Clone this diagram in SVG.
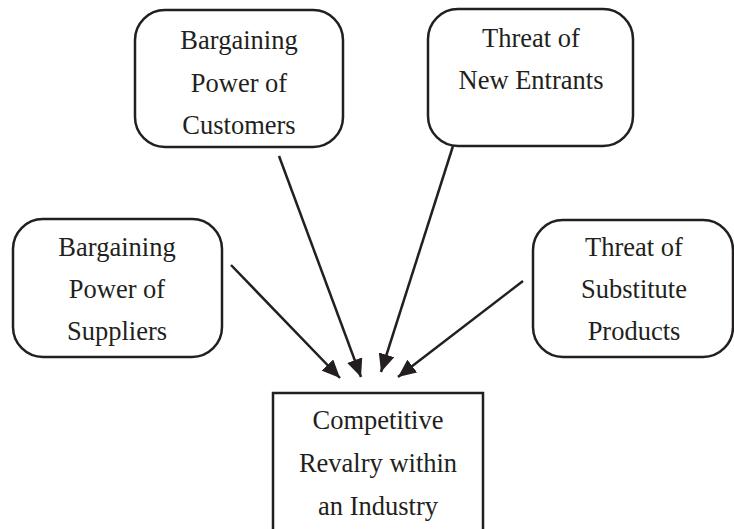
<svg xmlns="http://www.w3.org/2000/svg" width="734" height="529" viewBox="0 0 734 529">
<style>
.box{fill:#fff;stroke:#231f20;stroke-width:2.5}
.t{font-family:"Liberation Serif","Times New Roman",serif;font-size:26.5px;fill:#231f20;text-anchor:middle}
.c{stroke:#231f20;stroke-width:2.5;fill:none;marker-end:url(#ah)}
</style>
<defs>
<marker id="ah" markerUnits="userSpaceOnUse" markerWidth="20" markerHeight="16" refX="18" refY="8" orient="auto">
<path d="M0,0 L18,8 L0,16 z" fill="#231f20"/>
</marker>
</defs>
<rect width="734" height="529" fill="#fff"/>
<g id="customers">
<rect class="box" x="135" y="10" width="208" height="137" rx="30"/>
<text class="t" x="239" y="49">Bargaining</text>
<text class="t" x="239" y="92">Power of</text>
<text class="t" x="239" y="134">Customers</text>
</g>
<g id="entrants">
<rect class="box" x="428" y="9" width="205" height="137" rx="30"/>
<text class="t" x="531" y="47">Threat of</text>
<text class="t" x="531" y="89">New Entrants</text>
</g>
<g id="suppliers">
<rect class="box" x="13" y="219" width="209" height="138" rx="30"/>
<text class="t" x="117" y="256">Bargaining</text>
<text class="t" x="117" y="298">Power of</text>
<text class="t" x="117" y="340">Suppliers</text>
</g>
<g id="substitutes">
<rect class="box" x="533" y="220" width="200" height="137" rx="30"/>
<text class="t" x="634" y="256">Threat of</text>
<text class="t" x="634" y="298">Substitute</text>
<text class="t" x="634" y="340">Products</text>
</g>
<g id="rivalry">
<rect class="box" x="273" y="393" width="210" height="150"/>
<text class="t" x="378" y="429">Competitive</text>
<text class="t" x="378" y="472">Revalry within</text>
<text class="t" x="378" y="515">an Industry</text>
</g>
<g id="connectors">
<line class="c" x1="231" y1="265" x2="340" y2="378"/>
<line class="c" x1="279" y1="156" x2="361" y2="377"/>
<line class="c" x1="453" y1="146" x2="381" y2="372"/>
<line class="c" x1="523" y1="281" x2="398" y2="377"/>
</g>
</svg>
